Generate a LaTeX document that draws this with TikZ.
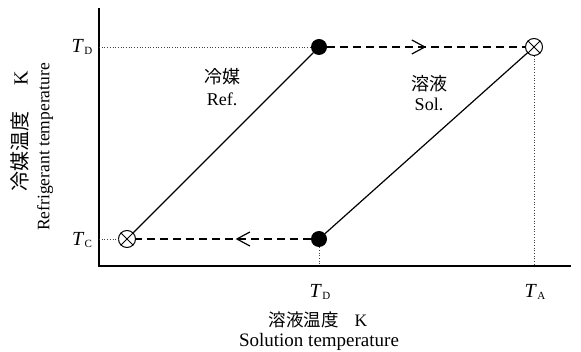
\documentclass[tikz,border=0pt]{standalone}
\usepackage{fontspec}
\setmainfont{Liberation Serif}
\newfontfamily\cjk{Noto Sans CJK JP}
\usetikzlibrary{arrows.meta,decorations.markings}
\newcommand\TT[1]{{\fontsize{20}{20}\selectfont\textit{T}}\kern0.3pt\raisebox{-0.3ex}{\fontsize{11}{11}\selectfont #1}}
\tikzset{
  axis/.style={line width=1.1pt},
  solidline/.style={line width=1.2pt},
  flowline/.style={line width=1.5pt, dash pattern=on 8pt off 5pt},
  guide/.style={line width=0.7pt, dotted, black!75},
  dotnode/.style={circle, fill=black, inner sep=0pt, minimum size=16pt},
  xnode/.style={circle, draw, fill=white, line width=1pt, inner sep=0pt, minimum size=17pt},
  lbl/.style={font=\fontsize{18}{20}\selectfont, inner sep=0pt},
  midarrow/.style={postaction={decorate}, decoration={markings,
     mark=at position #1 with {\arrow[solid,line width=1.2pt]{Straight Barb[length=13pt,width=14pt]}}}}
}
\begin{document}
\begin{tikzpicture}[x=1pt,y=-1pt]
\useasboundingbox (0,0) rectangle (581,352);
% axes
\coordinate (ytop) at (99,8);
\coordinate (org) at (99,266);
\coordinate (xend) at (571,266);
\draw[axis] (ytop) -- (org) -- (xend);
\coordinate (yD) at (99,47);
\coordinate (yC) at (99,239);
\coordinate (xD) at (319,266);
\coordinate (xA) at (534,266);
% points
\node[dotnode] (d1) at (319,47) {};
\node[xnode] (x1) at (534,47) {};
\node[dotnode] (d2) at (319,239) {};
\node[xnode] (x2) at (127,239) {};
\draw[line width=1pt] (x1.north east) -- (x1.south west) (x1.north west) -- (x1.south east);
\draw[line width=1pt] (x2.north east) -- (x2.south west) (x2.north west) -- (x2.south east);
% guides
\draw[guide] (yD) -- (d1);
\draw[guide] (yC) -- (x2);
\draw[guide] (d2) -- (xD);
\draw[guide] (x1) -- (xA);
% lines
\draw[solidline] (x2) -- (d1);
\draw[solidline] (d2) -- (x1);
\draw[flowline, midarrow=0.5] (d1) -- (x1);
\draw[flowline, midarrow=0.43] (d2) -- (x2);
% tick labels
\node[lbl] (tD) at (82,47) {\TT{D}};
\node[lbl] (tC) at (82,240) {\TT{C}};
\node[lbl] (bD) at (320,292) {\TT{D}};
\node[lbl] (bA) at (535,292) {\TT{A}};
% curve labels
\node[lbl] (ref1) at (222,77) {\cjk 冷媒};
\node[lbl] (ref2) at (222,99) {Ref.};
\node[lbl] (sol1) at (429,84) {\cjk 溶液};
\node[lbl] (sol2) at (429,104) {Sol.};
% axis titles
\node[lbl, font=\fontsize{17.5}{18}\selectfont] (xt1) at (318,320) {{\cjk 溶液温度}\hspace{0.9em}K};
\node[lbl, font=\fontsize{19}{20}\selectfont] (xt2) at (319,342) {Solution temperature};
\node[lbl, font=\fontsize{20}{20}\selectfont, rotate=90] (yt1) at (20,131) {{\cjk 冷媒温度}\hspace{1.3em}K};
\node[lbl, font=\fontsize{17.5}{19}\selectfont, rotate=90] (yt2) at (45,147) {Refrigerant temperature};
\end{tikzpicture}
\end{document}
